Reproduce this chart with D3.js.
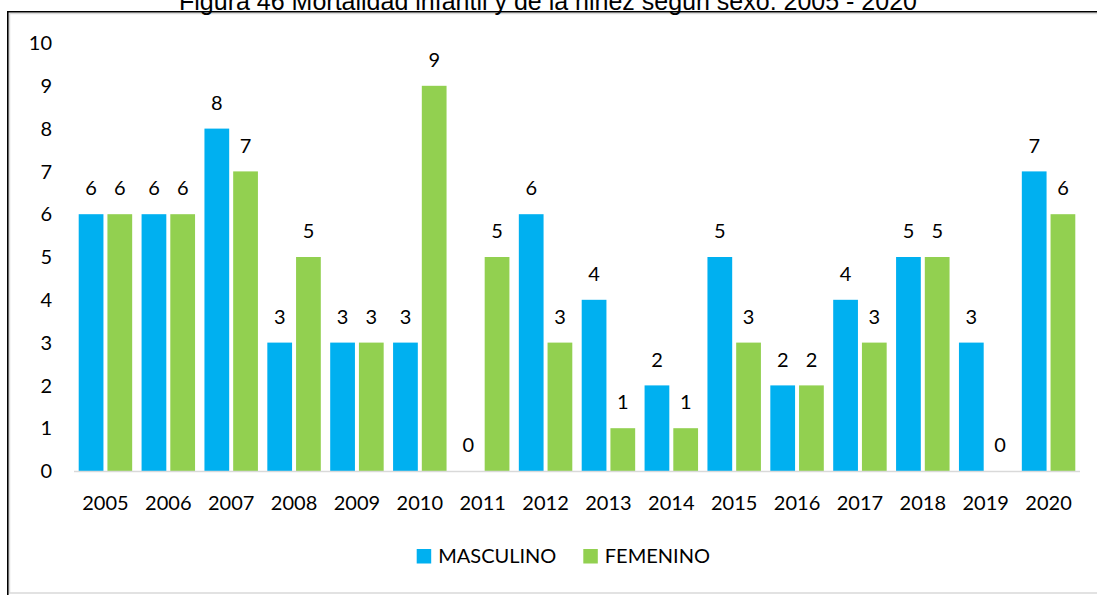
<!DOCTYPE html>
<html>
<head>
<meta charset="utf-8">
<script src="https://cdn.jsdelivr.net/npm/d3@7/dist/d3.min.js"></script>
<style>
  html, body { margin: 0; padding: 0; background: #fff; }
  svg { display: block; }
</style>
</head>
<body>
<svg id="chart" width="1097" height="595"></svg>
<script>
// Mortalidad infantil y de la niñez según sexo, 2005 - 2020
const years = ["2005","2006","2007","2008","2009","2010","2011","2012",
               "2013","2014","2015","2016","2017","2018","2019","2020"];
const masculino = [6, 6, 8, 3, 3, 3, 0, 6, 4, 2, 5, 2, 4, 5, 3, 7];
const femenino  = [6, 6, 7, 5, 3, 9, 5, 3, 1, 1, 3, 2, 3, 5, 0, 6];
const seriesNames = ["MASCULINO", "FEMENINO"];
const seriesColors = ["#00B0F0", "#92D050"];
const yTicks = [0, 1, 2, 3, 4, 5, 6, 7, 8, 9, 10];
const titleText = "Figura 46 Mortalidad infantil y de la niñez según sexo. 2005 - 2020";

const svg = d3.select("#chart");
const W = 1097, H = 595;
const labelFont = "Lato, 'Open Sans', sans-serif";
const labelSize = 20;

// outer frame: light inner edge plus dark top/left rule
svg.append("rect")
  .attr("x", 9.5).attr("y", 13.5)
  .attr("width", W + 10).attr("height", 579.5)
  .attr("fill", "none").attr("stroke", "#d9d9d9").attr("stroke-width", 1.5);
svg.append("line")
  .attr("x1", 7.5).attr("x2", W).attr("y1", 11.8).attr("y2", 11.8)
  .attr("stroke", "#000").attr("stroke-width", 1.6);
svg.append("line")
  .attr("x1", 7.8).attr("x2", 7.8).attr("y1", 11).attr("y2", H)
  .attr("stroke", "#000").attr("stroke-width", 1.6);

// title, sitting against the top edge
svg.append("text")
  .attr("x", 548).attr("y", 9.8)
  .attr("text-anchor", "middle")
  .attr("font-family", "'Liberation Sans', Arial, sans-serif")
  .attr("font-size", 25)
  .attr("fill", "#000")
  .text(titleText);

// scales
const x = d3.scaleBand().domain(years).range([74, 1080]).paddingInner(0).paddingOuter(0);
const inner = d3.scaleBand().domain(seriesNames).range([4.7, x.bandwidth() - 4.7]).paddingInner(0.139);
const y = d3.scaleLinear().domain([0, 10]).range([471, 43]);

const rows = years.map((yr, i) => ({ year: yr, values: [masculino[i], femenino[i]] }));

// bars
const groups = svg.append("g").selectAll("g.year")
  .data(rows).join("g")
  .attr("class", "year")
  .attr("transform", d => `translate(${x(d.year)},0)`);

groups.selectAll("rect")
  .data(d => d.values.map((v, k) => ({ name: seriesNames[k], value: v, color: seriesColors[k] })))
  .join("rect")
  .attr("x", d => inner(d.name))
  .attr("y", d => y(d.value))
  .attr("width", inner.bandwidth())
  .attr("height", d => y(0) - y(d.value))
  .attr("fill", d => d.color);

// value labels
groups.selectAll("text.val")
  .data(d => d.values.map((v, k) => ({ name: seriesNames[k], value: v })))
  .join("text")
  .attr("class", "val")
  .attr("x", d => inner(d.name) + inner.bandwidth() / 2)
  .attr("y", d => y(d.value) - 26)
  .attr("dy", "0.36em")
  .attr("text-anchor", "middle")
  .attr("font-family", labelFont)
  .attr("font-size", labelSize)
  .attr("fill", "#000")
  .text(d => d.value);

// x axis baseline
svg.append("line")
  .attr("x1", x.range()[0]).attr("x2", x.range()[1])
  .attr("y1", y(0) + 0.5).attr("y2", y(0) + 0.5)
  .attr("stroke", "#d9d9d9").attr("stroke-width", 1.6);

// year labels
svg.append("g").selectAll("text")
  .data(years).join("text")
  .attr("x", d => x(d) + x.bandwidth() / 2)
  .attr("y", 503)
  .attr("dy", "0.36em")
  .attr("text-anchor", "middle")
  .attr("font-family", labelFont)
  .attr("font-size", labelSize)
  .attr("fill", "#000")
  .text(d => d);

// y tick labels
svg.append("g").selectAll("text")
  .data(yTicks).join("text")
  .attr("x", 52)
  .attr("y", d => y(d))
  .attr("dy", "0.36em")
  .attr("text-anchor", "end")
  .attr("font-family", labelFont)
  .attr("font-size", labelSize)
  .attr("fill", "#000")
  .text(d => d);

// legend
const legendX = [416.7, 583.3];
const legend = svg.append("g").selectAll("g")
  .data(seriesNames).join("g")
  .attr("transform", (d, i) => `translate(${legendX[i]},556)`);
legend.append("rect")
  .attr("x", 0).attr("y", -7)
  .attr("width", 14.5).attr("height", 14.5)
  .attr("fill", (d, i) => seriesColors[i]);
legend.append("text")
  .attr("x", 21.5).attr("y", 0)
  .attr("dy", "0.36em")
  .attr("font-family", labelFont)
  .attr("font-size", labelSize)
  .attr("fill", "#000")
  .text(d => d);
</script>
</body>
</html>
